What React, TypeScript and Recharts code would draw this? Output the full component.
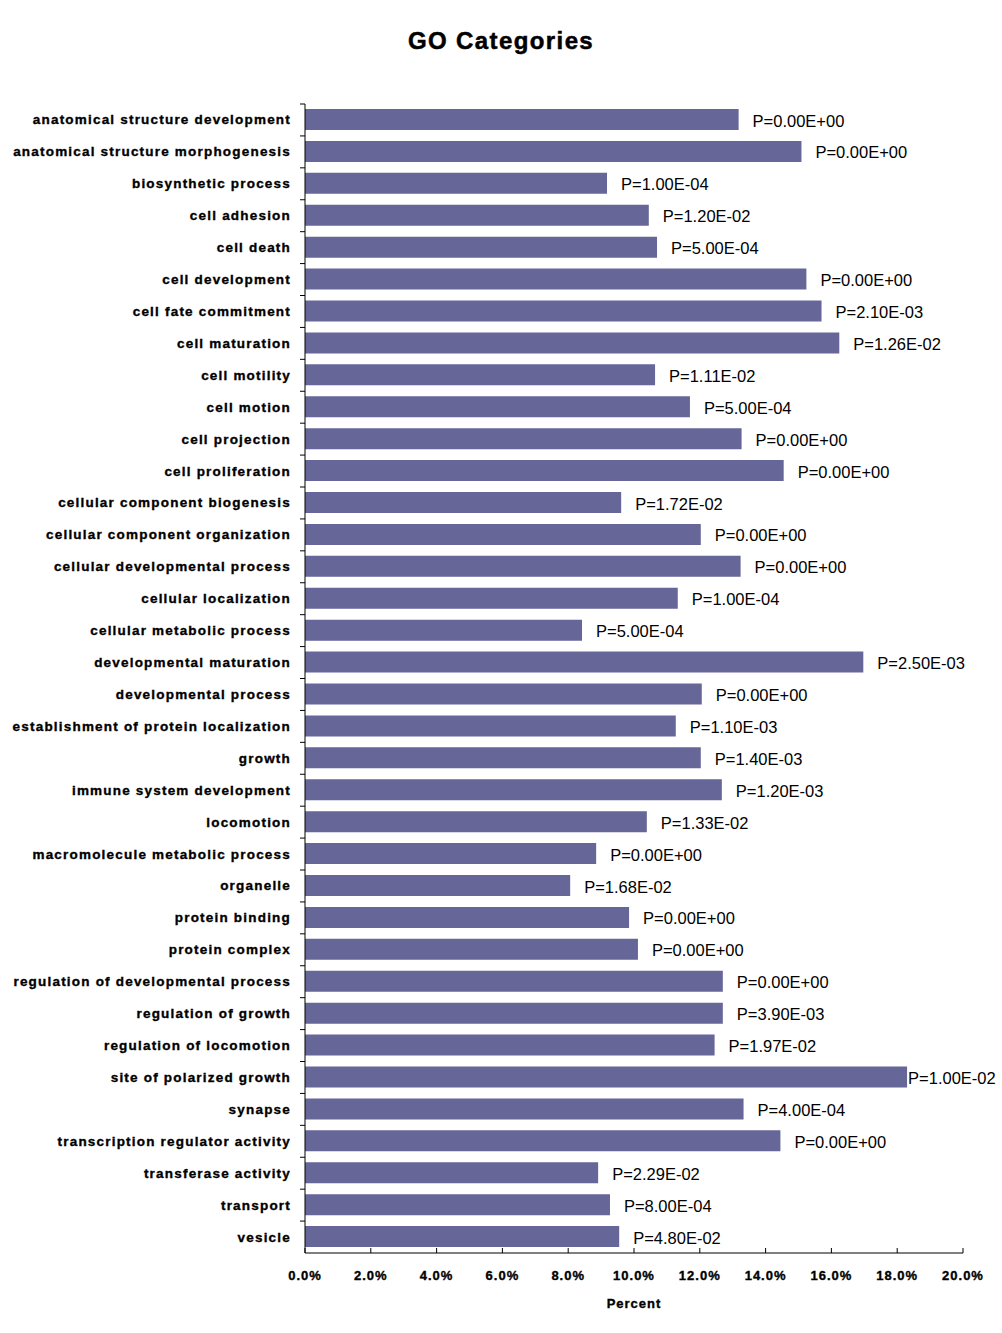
import React from 'react';
import { BarChart, Bar, XAxis, YAxis, LabelList } from 'recharts';

const categories = [
  'anatomical structure development',
  'anatomical structure morphogenesis',
  'biosynthetic process',
  'cell adhesion',
  'cell death',
  'cell development',
  'cell fate commitment',
  'cell maturation',
  'cell motility',
  'cell motion',
  'cell projection',
  'cell proliferation',
  'cellular component biogenesis',
  'cellular component organization',
  'cellular developmental process',
  'cellular localization',
  'cellular metabolic process',
  'developmental maturation',
  'developmental process',
  'establishment of protein localization',
  'growth',
  'immune system development',
  'locomotion',
  'macromolecule metabolic process',
  'organelle',
  'protein binding',
  'protein complex',
  'regulation of developmental process',
  'regulation of growth',
  'regulation of locomotion',
  'site of polarized growth',
  'synapse',
  'transcription regulator activity',
  'transferase activity',
  'transport',
  'vesicle',
];

const percents = [
  13.18, 15.09, 9.18, 10.45, 10.7, 15.24, 15.7, 16.24, 10.64, 11.7, 13.27, 14.55,
  9.61, 12.03, 13.24, 11.33, 8.42, 16.97, 12.06, 11.27, 12.03, 12.67, 10.39, 8.85,
  8.06, 9.85, 10.12, 12.7, 12.7, 12.45, 18.3, 13.33, 14.45, 8.91, 9.27, 9.55,
];

const pValues = [
  'P=0.00E+00', 'P=0.00E+00', 'P=1.00E-04', 'P=1.20E-02', 'P=5.00E-04', 'P=0.00E+00',
  'P=2.10E-03', 'P=1.26E-02', 'P=1.11E-02', 'P=5.00E-04', 'P=0.00E+00', 'P=0.00E+00',
  'P=1.72E-02', 'P=0.00E+00', 'P=0.00E+00', 'P=1.00E-04', 'P=5.00E-04', 'P=2.50E-03',
  'P=0.00E+00', 'P=1.10E-03', 'P=1.40E-03', 'P=1.20E-03', 'P=1.33E-02', 'P=0.00E+00',
  'P=1.68E-02', 'P=0.00E+00', 'P=0.00E+00', 'P=0.00E+00', 'P=3.90E-03', 'P=1.97E-02',
  'P=1.00E-02', 'P=4.00E-04', 'P=0.00E+00', 'P=2.29E-02', 'P=8.00E-04', 'P=4.80E-02',
];

const xTicks = [0, 2, 4, 6, 8, 10, 12, 14, 16, 18, 20];

const data = categories.map((name, i) => ({ name, value: percents[i], p: pValues[i] }));

const FONT = '"Liberation Sans", Arial, sans-serif';
const BAND = 31.9;
const LABEL_W = 92;
const PAGE_RIGHT = 1000;

const YTick = (props: any) => {
  const { x, y, payload } = props;
  return (
    <g>
      <line x1={x + 9} x2={x + 14} y1={y - BAND / 2} y2={y - BAND / 2} stroke="#000" />
      <text
        x={x}
        y={y}
        dy={4.5}
        textAnchor="end"
        fontFamily={FONT}
        fontWeight="bold"
        fontSize={13.5}
        letterSpacing={1.2}
        stroke="#000"
        strokeWidth={0.35}
        fill="#000"
      >
        {payload.value}
      </text>
    </g>
  );
};

const XTick = (props: any) => {
  const { x, y, payload } = props;
  return (
    <g>
      <line x1={x} x2={x} y1={y - 5} y2={y} stroke="#000" />
      <text
        x={x}
        y={y + 27}
        textAnchor="middle"
        fontFamily={FONT}
        fontWeight="bold"
        fontSize={13}
        letterSpacing={1}
        stroke="#000"
        strokeWidth={0.35}
        fill="#000"
      >
        {payload.value.toFixed(1) + '%'}
      </text>
    </g>
  );
};

const PLabel = (props: any) => {
  const { x, y, width, height, value } = props;
  let start = x + width + 14;
  if (start + LABEL_W > PAGE_RIGHT) start = Math.max(x + width + 1, PAGE_RIGHT - LABEL_W);
  return (
    <text
      x={start}
      y={y + height / 2}
      dy={7}
      fontFamily={FONT}
      fontSize={16.5}
      fill="#000"
    >
      {value}
    </text>
  );
};

export default function App() {
  return (
    <div style={{ position: 'absolute', left: 0, top: 0, width: 1002, height: 1333, background: '#fff' }}>
      <div
        style={{
          position: 'absolute',
          left: 0,
          width: 1002,
          top: 27,
          textAlign: 'center',
          fontFamily: FONT,
          fontWeight: 'bold',
          fontSize: 24,
          letterSpacing: 1.4,
          WebkitTextStroke: '0.5px #000',
          color: '#000',
        }}
      >
        GO Categories
      </div>
      <BarChart
        width={1002}
        height={1333}
        data={data}
        layout="vertical"
        margin={{ top: 104, right: 39, bottom: 30, left: 0 }}
        barSize={21}
      >
        <XAxis
          type="number"
          domain={[0, 20]}
          ticks={xTicks}
          interval={0}
          height={50}
          tickLine={false}
          tickSize={0}
          tickMargin={0}
          tick={<XTick />}
          axisLine={{ stroke: '#000' }}
          label={{
            value: 'Percent',
            position: 'insideBottom',
            offset: -5,
            fontFamily: FONT,
            fontWeight: 'bold',
            fontSize: 13,
            letterSpacing: 1,
            stroke: '#000',
            strokeWidth: 0.35,
            fill: '#000',
          }}
        />
        <YAxis
          type="category"
          dataKey="name"
          width={305}
          interval={0}
          tickLine={false}
          tickSize={0}
          tickMargin={14}
          axisLine={{ stroke: '#000' }}
          tick={<YTick />}
        />
        <Bar dataKey="value" fill="#666699" isAnimationActive={false}>
          <LabelList dataKey="p" content={<PLabel />} />
        </Bar>
      </BarChart>
    </div>
  );
}
